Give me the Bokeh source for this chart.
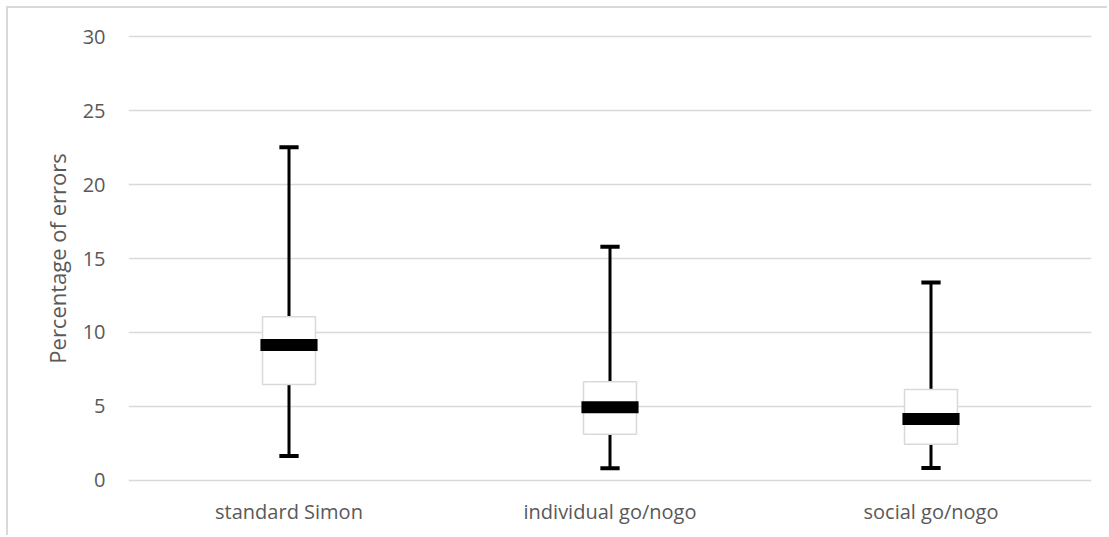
from bokeh.plotting import figure
from bokeh.models import FactorRange, Range1d, FixedTicker
from bokeh.embed import file_html
from bokeh.resources import INLINE

categories = ["standard Simon", "individual go/nogo", "social go/nogo"]
whisker_low = [1.63, 0.8, 0.82]
q1 = [6.48, 3.1, 2.42]
median = [9.15, 4.93, 4.14]
q3 = [11.05, 6.66, 6.14]
whisker_high = [22.53, 15.8, 13.38]
y_ticks = [0, 5, 10, 15, 20, 25, 30]

FONT = "Open Sans"
TXT = "#595959"
GRID = "#d9d9d9"

p = figure(
    x_range=FactorRange(factors=categories, range_padding=0),
    y_range=Range1d(-0.5, 30.5),
    width=1101, height=529,
    output_backend="svg", toolbar_location=None,
    min_border_left=120, min_border_right=18,
    min_border_top=21, min_border_bottom=50,
)
p.styles = {"margin-left": "6px", "margin-top": "6px",
            "border-left": "2px solid #d9d9d9", "border-top": "2px solid #d9d9d9"}
p.outline_line_color = None
p.background_fill_color = "white"
p.border_fill_color = "white"

p.xgrid.grid_line_color = None
p.ygrid.grid_line_color = GRID
p.ygrid.grid_line_width = 1.5
p.yaxis.ticker = FixedTicker(ticks=y_ticks)

for ax in (p.xaxis[0], p.yaxis[0]):
    ax.axis_line_color = None
    ax.major_tick_line_color = None
    ax.minor_tick_line_color = None
    ax.major_tick_out = 0
    ax.major_tick_in = 0
    ax.major_label_text_font = FONT
    ax.major_label_text_color = TXT
    ax.major_label_text_font_size = "20px"

p.yaxis.major_label_standoff = 23
p.xaxis.major_label_standoff = 10
p.yaxis.axis_label = "Percentage of errors"
p.yaxis.axis_label_text_font = FONT
p.yaxis.axis_label_text_font_style = "normal"
p.yaxis.axis_label_text_color = TXT
p.yaxis.axis_label_text_font_size = "22px"
p.yaxis.axis_label_standoff = 8

# whiskers
p.segment(x0=categories, y0=whisker_low, x1=categories, y1=whisker_high,
          line_color="black", line_width=3)
# caps
p.rect(x=categories, y=whisker_high, width=0.06, height=4, height_units="screen",
       fill_color="black", line_color=None)
p.rect(x=categories, y=whisker_low, width=0.06, height=4, height_units="screen",
       fill_color="black", line_color=None)
# boxes
p.vbar(x=categories, bottom=q1, top=q3, width=0.165,
       fill_color="white", line_color=GRID, line_width=1.5)
# median bars
p.rect(x=categories, y=median, width=0.178, height=12, height_units="screen",
       fill_color="black", line_color=None)

open("out.html", "w").write(file_html(p, INLINE))
